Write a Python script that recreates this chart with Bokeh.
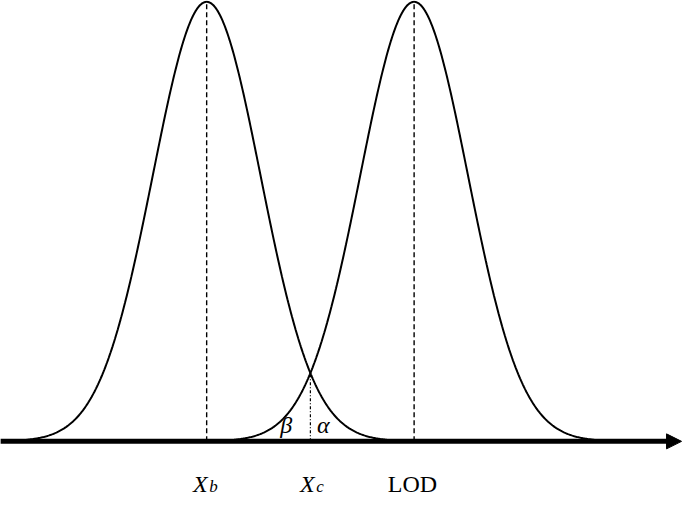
import numpy as np
from bokeh.plotting import figure
from bokeh.models import Range1d, Arrow, NormalHead
from bokeh.core.properties import value
from bokeh.embed import file_html
from bokeh.resources import INLINE

# Distribution parameters (in units of the standard deviation)
mu_blank = 0.0      # X_b : mean of the blank signal
mu_lod = 3.86       # LOD : mean of the signal at the detection limit
sigma = 1.0
x_c = (mu_blank + mu_lod) / 2.0   # X_c : decision threshold
tail = 3.35         # curves drawn to +/- tail * sigma

labels_main = ["X", "X", "LOD"]
labels_sub = ["b", "c"]
area_labels = ["β", "α"]

def density(x, mu):
    return np.exp(-0.5 * ((x - mu) / sigma) ** 2)

p = figure(width=684, height=498, output_backend="svg", toolbar_location=None,
           x_range=Range1d(-3.836, 8.891), y_range=Range1d(-0.13, 1.003),
           min_border=0, outline_line_color=None)
p.axis.visible = False
p.grid.visible = False

# axis with arrow
p.segment(x0=[-3.84], y0=[0], x1=[8.58], y1=[0], line_width=5, line_color="black")
p.add_layout(Arrow(end=NormalHead(size=15, fill_color="black", line_color="black", line_width=1),
                   x_start=8.5, y_start=0, x_end=8.836, y_end=0,
                   line_width=1, line_color="black"))

# curves
for mu in (mu_blank, mu_lod):
    xs = np.linspace(mu - tail * sigma, mu + tail * sigma, 400)
    p.line(xs, density(xs, mu), line_width=2, line_color="black")

# dashed lines at means
p.segment(x0=[mu_blank, mu_lod], y0=[0, 0], x1=[mu_blank, mu_lod], y1=[1, 1],
          line_width=1.4, line_color="black", line_dash="5 3")
# dash-dot line at X_c up to crossing
p.segment(x0=[x_c], y0=[0], x1=[x_c], y1=[density(x_c, mu_blank)],
          line_width=1.2, line_color="black", line_dash="3 2 1 2")

# axis labels
serif = value("Liberation Serif")
main_x = [mu_blank + 0.02, x_c + 0.08, mu_lod - 0.03]
main_align = ["right", "right", "center"]
main_style = ["italic", "italic", "normal"]
p.text(x=main_x, y=[-0.0976] * 3, text=labels_main, text_align=main_align,
       text_baseline="alphabetic", text_font=serif, text_font_size="24px",
       text_font_style=main_style, text_color="black")
p.text(x=[main_x[0] + 0.03, main_x[1] + 0.03], y=[-0.102, -0.102], text=labels_sub,
       text_align="left", text_baseline="alphabetic", text_font=serif,
       text_font_size="17px", text_font_style="italic", text_color="black")

# region labels
p.text(x=[x_c - 0.45, x_c + 0.24], y=[0.037, 0.037], text=area_labels,
       text_align="center", text_baseline="middle", text_font=serif,
       text_font_size="24px", text_font_style="italic", text_color="black")

open("out.html", "w").write(file_html(p, INLINE))
